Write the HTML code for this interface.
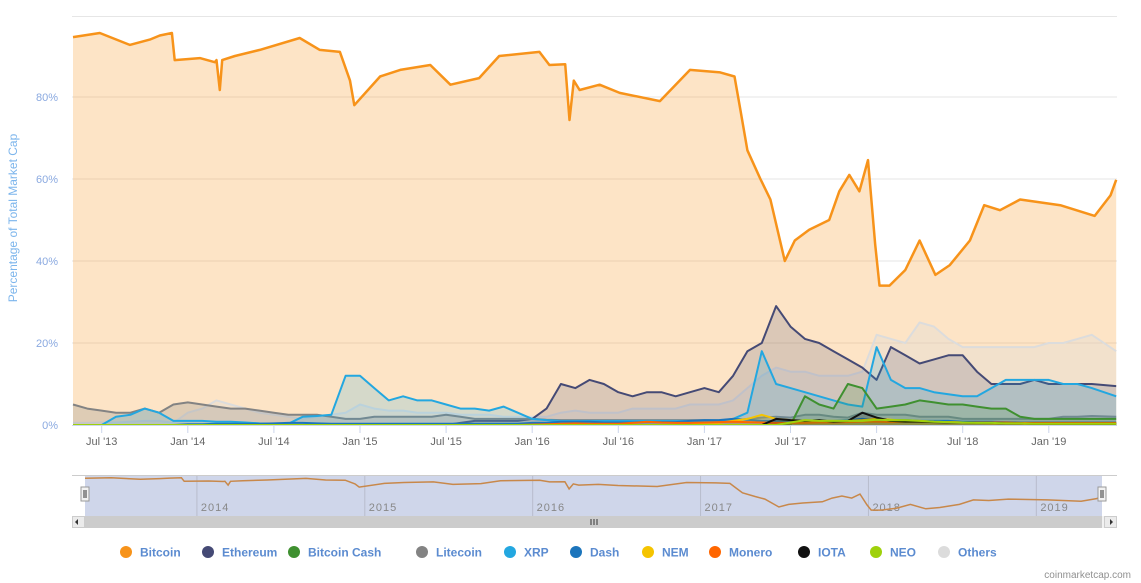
<!DOCTYPE html>
<html><head><meta charset="utf-8"><title>Percentage of Total Market Cap</title>
<style>
html,body{margin:0;padding:0;background:#fff;}
svg{display:block;font-family:"Liberation Sans",sans-serif;}
</style></head>
<body>
<svg id="chart" width="1141" height="583" viewBox="0 0 1141 583" xmlns="http://www.w3.org/2000/svg">
  <rect x="0" y="0" width="1141" height="583" fill="#fff"/>
  <g id="grid"></g>
  <g id="series"></g>
  <g id="yaxis"></g>
  <g id="xaxis"></g>
  <text transform="translate(17,218) rotate(-90)" text-anchor="middle" font-size="12" fill="#7cb5ec">Percentage of Total Market Cap</text>
  <g id="nav"></g>
  <g id="legend"></g>
  <text x="1131" y="578" text-anchor="end" font-size="10" fill="#909090">coinmarketcap.com</text>
</svg>
<script>
// ---- data (month offsets from May 2013) ----
const btcMonths = [0,1.87,3.96,5.35,6.05,6.89,7.09,8.84,9.88,10.0,10.23,10.4,11.28,13.02,15.8,17.2,18.6,19.3,19.6,21.4,22.8,24.9,26.3,28.3,29.7,32.5,33.2,34.3,34.6,34.9,35.3,36.7,38.1,40.9,43.0,45.1,46.1,46.5,47.0,47.9,48.6,49.6,50.3,51.3,52.7,53.4,54.1,54.8,55.4,55.9,56.2,56.9,58.0,59.0,60.1,61.1,62.5,63.5,64.6,66.0,68.8,71.2,72.3,72.7];
const btcValues = [94.6,95.6,92.7,94,95,95.6,89,89.5,88.5,89,81.7,89,90,91.5,94.4,91.5,91,84,78,85,86.6,87.8,83,84.6,90,91,87.8,88,74.4,84,81.7,83,81,79,86.6,86,85,77,67,60,55,40,45,47.6,50,57,61,57,64.6,44,34,34,37.8,45,36.6,39,45,53.6,52.4,55,53.6,51,56,59.8];
const ethValues = [0,0,0,0,0,0,0,0,0,0,0,0,0,0,0,0,0,0,0,0,0,0,0,0,0,0,0,0.5,1,1,1,1,1.5,4,10,9,11,10,8,7,8,8,7,8,9,8,12,18,20,29,24,21,20,18,16,14,11,19,17,15,16,17,17,13,10,10,10,11,10,10,10,10,9.5];
const xrpValues = [0,0,0,2,2.5,4,3,1,1,1,.8,.8,.6,.4,.3,.3,2,2.2,2.5,12,12,9,6,7,6,6,5,4,4,3.5,4.5,3,1.5,1.2,1,1,1,1,1,1,1,1,1,1,1,1,1.5,3,18,10,9,8,7,6,5,4.5,19,11,9,9,8,7.5,7,7,9,11,11,11,11,10,10,9,7];
const ltcValues = [5,4,3.5,3,3,4,3,5,5.5,5,4.5,4,4,3.5,3,2.5,2.5,2.5,2,1.5,1.5,2,2,2,2,2,2.5,2,1.5,1.5,1.5,1.5,1.5,1.3,1.2,1.2,1.2,1.2,1.2,1.2,1.2,1.2,1.2,1.2,1.2,1.1,1.1,1.5,1.8,2,1.8,2.5,2.5,2,1.8,3,2.5,2.5,2.5,2,2,2,1.5,1.5,1.5,1.5,1.5,1.5,1.5,2,2,2.2,2];
const othersValues = [.5,.5,.6,.6,.8,1,1,.5,3,4,6,5,4,3,2.5,2,1.5,2,2.5,3,5,4,3.5,3.5,3,3,3,2.5,2.5,2.5,2,2,2,2,3,3.5,3,3,3,4,4,4,4,5,5,5,6,9,12,14,13,13,12,12,12,13,22,21,20,25,24,21,19,19,19,19,19,19,20,20,21,22,18];
const bchValues = [0,0,0,0,0,0,0,0,0,0,0,0,0,0,0,0,0,0,0,0,0,0,0,0,0,0,0,0,0,0,0,0,0,0,0,0,0,0,0,0,0,0,0,0,0,0,0,0,0,0,0,7,5,4,10,9,4,4.5,5,6,5.5,5,5,4.5,4,4,2,1.5,1.5,1.5,1.5,1.5,1.5];
const dashValues = [0,0,0,0,0,0,0,0,.2,.2,.3,.3,.3,.3,.4,.5,.5,.4,.3,.3,.3,.3,.3,.3,.3,.3,.3,.3,.3,.3,.3,.3,.5,.5,.8,.8,.8,.6,.6,.6,.7,.7,.7,1,1.2,1.2,1.5,1.3,1,1,1,1,1,1,1.2,1.5,1.3,1.2,1.2,1,1,1,.8,.8,.8,.7,.6,.6,.6,.6,.6,.6,.6];
const nemValues = [0,0,0,0,0,0,0,0,0,0,0,0,0,0,0,0,0,0,0,0,0,0,0,0,0,0,0,0,0,0,0,0,0,0,0,0,0,0,0,0,0,0,0,0,.5,.5,1,1.5,2.5,1.5,1.2,1,1,1,1,1.2,1.5,1.3,1,1,.8,.7,.6,.5,.4,.4,.3,.3,.3,.3,.3,.3,.3];
const xmrValues = [0,0,0,0,0,0,0,0,0,0,0,0,0,0,0,0,0,0,0,0,0,0,0,0,0,0,0,0,0,0,0,0,.1,.2,.3,.4,.3,.3,.3,.5,.8,.6,.5,.5,.6,.7,.8,.7,.6,.5,.5,.5,.6,.6,.7,.8,.8,.7,.8,.8,.7,.7,.6,.6,.6,.6,.5,.5,.5,.5,.5,.5,.5];
const iotaValues = [0,0,0,0,0,0,0,0,0,0,0,0,0,0,0,0,0,0,0,0,0,0,0,0,0,0,0,0,0,0,0,0,0,0,0,0,0,0,0,0,0,0,0,0,0,0,0,0,0,1.5,1.2,1,1.2,.8,1,3,1.8,1,.8,.8,.7,.6,.6,.5,.5,.4,.4,.3,.3,.3,.3,.3,.3];
const neoValues = [0,0,0,0,0,0,0,0,0,0,0,0,0,0,0,0,0,0,0,0,0,0,0,0,0,0,0,0,0,0,0,0,0,0,0,0,0,0,0,0,0,0,0,0,0,0,0,0,0,0,.6,1.2,1,1,1,1,1.3,1.2,1.2,1,.8,.7,.6,.5,.5,.4,.4,.3,.3,.3,.3,.3,.3];
const yTicks = [0,20,40,60,80];
const yTickLabels = ["0%","20%","40%","60%","80%"];
const xTickMonths = [2,8,14,20,26,32,38,44,50,56,62,68];
const xTickLabels = ["Jul '13","Jan '14","Jul '14","Jan '15","Jul '15","Jan '16","Jul '16","Jan '17","Jul '17","Jan '18","Jul '18","Jan '19"];
const navYearMonths = [8,20,32,44,56,68];
const navYearLabels = ["2014","2015","2016","2017","2018","2019"];
const legendNames = ["Bitcoin","Ethereum","Bitcoin Cash","Litecoin","XRP","Dash","NEM","Monero","IOTA","NEO","Others"];

const NS="http://www.w3.org/2000/svg";
const months=[]; for(let i=0;i<72;i++) months.push(i); months.push(72.7);
const X0=73, PXM=14.35, Y0=425, PXP=4.1;
const xS=t=>X0+t*PXM;
const yS=v=>Y0-v*PXP;
const nx=t=>85+t*13.99;
const ny=v=>528-v*0.525;
function mk(tag,attrs,parent){const e=document.createElementNS(NS,tag);for(const k in attrs)e.setAttribute(k,attrs[k]);parent.appendChild(e);return e;}

const grid=document.getElementById('grid');
yTicks.forEach((v,i)=>{ if(v>0){ const l=mk('line',{x1:72,x2:1117,y1:yS(v),y2:yS(v),stroke:'#e6e6e6','stroke-width':1},grid);
 
 }});
const tl=mk('line',{x1:72,x2:1117,y1:16.5,y2:16.5,stroke:'#e6e6e6'},grid);



const series=[
 {n:'bitcoin',c:'#f7931a',t:btcMonths,v:btcValues,o:0.25,w:2.5},
 {n:'others',c:'#dcdcdc',t:months,v:othersValues,o:0.3,w:2},
 {n:'ethereum',c:'#454a75',t:months,v:ethValues,o:0.18,w:2},
 {n:'litecoin',c:'#838383',t:months,v:ltcValues,o:0.25,w:2},
 {n:'xrp',c:'#23a7e0',t:months,v:xrpValues,o:0.18,w:2},
 {n:'bitcoin-cash',c:'#3f9030',t:months,v:bchValues,o:0.18,w:2},
 {n:'dash',c:'#1c75bc',t:months,v:dashValues,o:0.2,w:2},
 {n:'nem',c:'#f5c400',t:months,v:nemValues,o:0.2,w:2},
 {n:'monero',c:'#ff6600',t:months,v:xmrValues,o:0.2,w:2},
 {n:'iota',c:'#111111',t:months,v:iotaValues,o:0.2,w:2},
 {n:'neo',c:'#9fd10b',t:months,v:neoValues,o:0.2,w:2}
];
const sg=document.getElementById('series');
series.forEach(s=>{
  let pts=s.t.map((t,i)=>[xS(t),yS(s.v[i])]);
  let line='M'+pts.map(p=>p[0].toFixed(1)+','+p[1].toFixed(1)).join('L');
  let area=line+'L'+pts[pts.length-1][0].toFixed(1)+','+Y0+'L'+pts[0][0].toFixed(1)+','+Y0+'Z';
  const a=mk('path',{d:area,fill:s.c,'fill-opacity':s.o,stroke:'none'},sg);
  
  
  const l=mk('path',{d:line,fill:'none',stroke:s.c,'stroke-width':s.w,'stroke-linejoin':'round'},sg);
  
  
});

const ya=document.getElementById('yaxis');
yTicks.forEach((v,i)=>{const t=mk('text',{x:58,y:yS(v)+4,'text-anchor':'end','font-size':11,fill:'#8aa9e0'},ya);t.textContent=yTickLabels[i];
 
 });

const xa=document.getElementById('xaxis');
const base=mk('line',{x1:72,x2:1117,y1:425.5,y2:425.5,stroke:'#ccd6eb'},xa);


xTickMonths.forEach((m,i)=>{
  const tk=mk('line',{x1:xS(m),x2:xS(m),y1:425,y2:433,stroke:'#ccd6eb'},xa);
  
  
  const t=mk('text',{x:xS(m),y:445,'text-anchor':'middle','font-size':11,fill:'#666'},xa);t.textContent=xTickLabels[i];
  
  
});

// navigator
const nav=document.getElementById('nav');
const nb=mk('rect',{x:72,y:476,width:1045,height:40,fill:'#fff'},nav);


const sel=mk('rect',{x:85,y:476,width:1017,height:40,fill:'#c7cfe6','fill-opacity':0.85},nav);


const ntop=mk('line',{x1:72,x2:1117,y1:475.5,y2:475.5,stroke:'#ccc'},nav);


navYearMonths.forEach((m,i)=>{
  const g=mk('line',{x1:nx(m),x2:nx(m),y1:476,y2:516,stroke:'#b8bccc'},nav);
  
  
  const t=mk('text',{x:nx(m)+4,y:511,'font-size':11,fill:'#888','letter-spacing':'1'},nav);t.textContent=navYearLabels[i];
  
  
});
const nl=mk('path',{d:'M'+btcMonths.map((t,i)=>nx(t).toFixed(1)+','+ny(btcValues[i]).toFixed(1)).join('L'),fill:'none',stroke:'#c8884a','stroke-width':1.5},nav);


[85,1102].forEach((hx,i)=>{
  const h=mk('rect',{x:hx-4,y:487,width:8,height:14,fill:'#f2f2f2',stroke:'#999'},nav);
  
  
  mk('line',{x1:hx-1,x2:hx-1,y1:490,y2:498,stroke:'#333'},nav);
  mk('line',{x1:hx+1,x2:hx+1,y1:490,y2:498,stroke:'#333'},nav);
});
const sb=mk('rect',{x:72,y:516,width:1045,height:12,fill:'#f2f2f2'},nav);


const th=mk('rect',{x:85,y:516,width:1017,height:12,fill:'#cccccc'},nav);


[[72,'M78,519L75,522L78,525Z','scrollbar-left-arrow'],[1104,'M1110,519L1113,522L1110,525Z','scrollbar-right-arrow']].forEach(a=>{
  const b=mk('rect',{x:a[0]+0.5,y:516.5,width:12,height:11,fill:'#ebebeb',stroke:'#ccc'},nav);
  
  
  mk('path',{d:a[1],fill:'#333'},nav);
});
[591,594,597].forEach(gx=>mk('line',{x1:gx,x2:gx,y1:519,y2:525,stroke:'#333'},nav));

// legend
const lg=document.getElementById('legend');
const legColors=['#f7931a','#454a75','#3f9030','#838383','#23a7e0','#1c75bc','#f5c400','#ff6600','#111111','#9fd10b','#dcdcdc'];
const legX=[126,208,294,422,510,576,648,715,804,876,944];
legendNames.forEach((n,i)=>{
  const g=mk('g',{},lg);
  
  
  mk('circle',{cx:legX[i],cy:552,r:6,fill:legColors[i]},g);
  const t=mk('text',{x:legX[i]+14,y:556.5,'font-size':12,'font-weight':'bold',fill:'#5b8bd0'},g);t.textContent=n;
});
</script>
</body></html>
